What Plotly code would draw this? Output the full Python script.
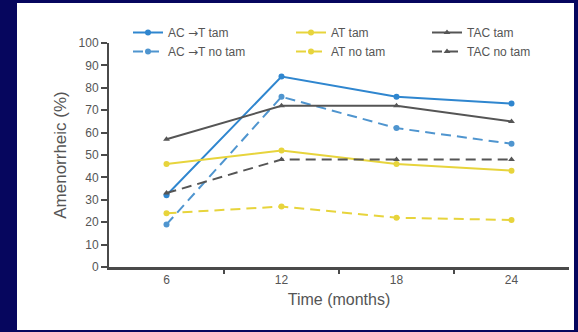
import plotly.graph_objects as go

# Amenorrhea rate by time since chemotherapy
months = [6, 12, 18, 24]
ac_t_tam = [32, 85, 76, 73]
ac_t_no_tam = [19, 76, 62, 55]
at_tam = [46, 52, 46, 43]
at_no_tam = [24, 27, 22, 21]
tac_tam = [57, 72, 72, 65]
tac_no_tam = [33, 48, 48, 48]

x_tick_vals = [6, 12, 18, 24]
x_minor_vals = [9, 15, 21]
y_tick_vals = list(range(0, 101, 10))

BLUE = "#2f86cf"
BLUE_LIGHT = "#4f95cf"
YELLOW = "#e7d43c"
GRAY = "#555555"
NAVY = "#06065e"
TEXT = "#555555"

W, H = 578, 332
L, R, T, B = 109, 9, 43, 65
PW, PH = W - L - R, H - T - B

ARROW = '<span style="font-family:DejaVu Sans">\u2192</span>'

series = [
    ("AC " + ARROW + "T tam", ac_t_tam, BLUE, "solid", "circle", "legend"),
    ("AC " + ARROW + "T no tam", ac_t_no_tam, BLUE_LIGHT, "10px,6px", "circle", "legend"),
    ("AT tam", at_tam, YELLOW, "solid", "circle", "legend2"),
    ("AT no tam", at_no_tam, YELLOW, "10px,6px", "circle", "legend2"),
    ("TAC tam", tac_tam, GRAY, "solid", "triangle-up", "legend3"),
    ("TAC no tam", tac_no_tam, GRAY, "10px,6px", "triangle-up", "legend3"),
]

fig = go.Figure()
for name, vals, color, dash, sym, leg in series:
    fig.add_trace(go.Scatter(
        x=months, y=vals, name=name, mode="lines+markers",
        line=dict(color=color, width=2, dash=dash),
        marker=dict(color=color, size=6, symbol=sym),
        legend=leg,
    ))


def px_x(p):
    return (p - L) / PW


def px_y(p):
    return (H - B - p) / PH


# navy frame around the white panel
frame = [(0, 0, 17, H), (0, 0, W, 3), (W - 4, 0, W, H), (0, H - 2, W, H)]
shapes = []
for x0, y0, x1, y1 in frame:
    shapes.append(dict(type="rect", xref="paper", yref="paper",
                       x0=px_x(x0), x1=px_x(x1), y0=px_y(y1), y1=px_y(y0),
                       fillcolor=NAVY, line=dict(width=0), layer="below"))

legend_common = dict(
    orientation="v", xanchor="left", yanchor="top",
    bgcolor="rgba(0,0,0,0)", font=dict(family="Liberation Sans, Arial", size=12, color=TEXT),
    itemwidth=30, tracegroupgap=0,
)

fig.update_layout(
    width=W, height=H,
    margin=dict(l=L, r=R, t=T, b=B),
    paper_bgcolor="white", plot_bgcolor="white",
    font=dict(family="Liberation Sans, Arial", color=TEXT),
    shapes=shapes,
    legend=dict(x=px_x(128), y=px_y(18), **legend_common),
    legend2=dict(x=px_x(291), y=px_y(18), **legend_common),
    legend3=dict(x=px_x(427), y=px_y(18), **legend_common),
    xaxis=dict(
        range=[3, 27], tickvals=x_tick_vals, ticktext=[str(v) for v in x_tick_vals],
        ticks="", showgrid=False, zeroline=False,
        showline=True, linecolor="#4a4a4a", linewidth=3,
        tickfont=dict(size=12, color=TEXT),
        minor=dict(tickvals=x_minor_vals, ticks="outside", ticklen=4,
                   tickcolor="#4a4a4a", tickwidth=2, showgrid=False),
        title=dict(text="Time (months)", font=dict(size=16, color=TEXT), standoff=8),
    ),
    yaxis=dict(
        range=[0, 100], tickvals=y_tick_vals, ticks="outside", ticklen=6,
        tickcolor="#4a4a4a", tickwidth=1.5,
        showgrid=False, zeroline=False,
        showline=True, linecolor="#4a4a4a", linewidth=2,
        tickfont=dict(size=12, color=TEXT),
        title=dict(text="Amenorrheic (%)", font=dict(size=17, color=TEXT), standoff=8),
    ),
)

fig.write_html("out.html")
